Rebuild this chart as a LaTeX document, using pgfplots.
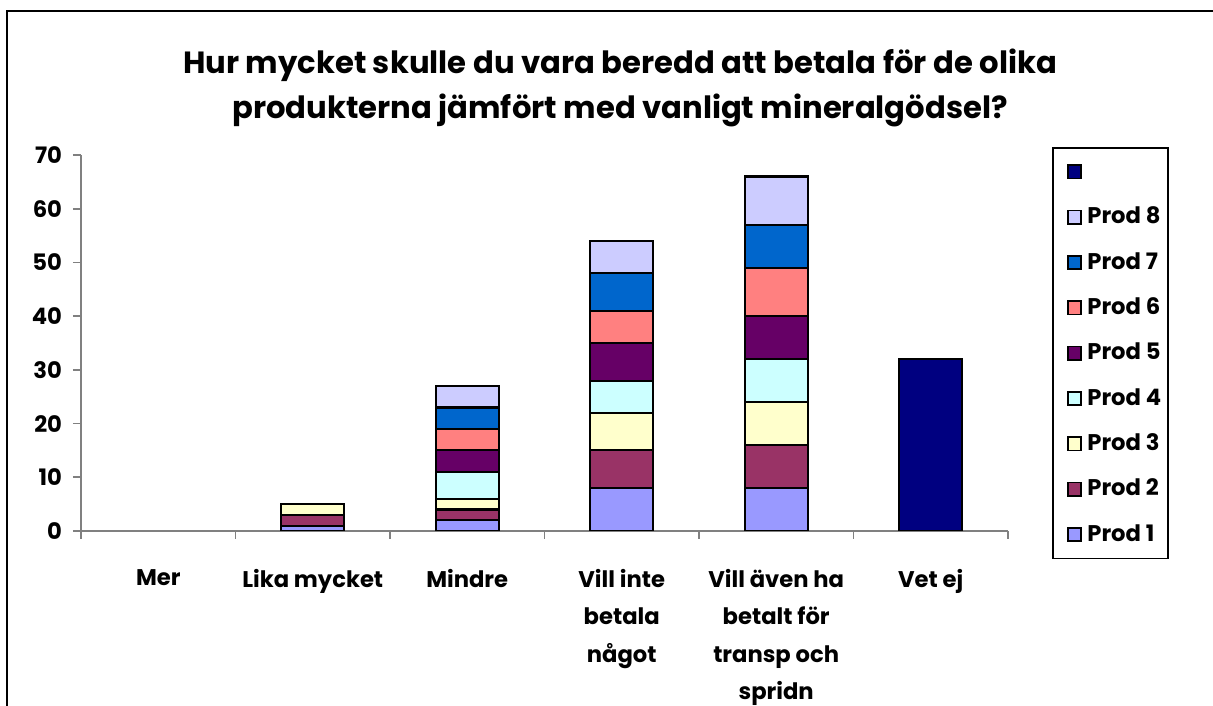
\documentclass[border=0pt]{standalone}
\usepackage{fontspec}
\setmainfont{Poppins}
\usepackage{pgfplots}
\pgfplotsset{compat=1.18}

\definecolor{prodA}{HTML}{9999FF}
\definecolor{prodB}{HTML}{993366}
\definecolor{prodC}{HTML}{FFFFCC}
\definecolor{prodD}{HTML}{CCFFFF}
\definecolor{prodE}{HTML}{660066}
\definecolor{prodF}{HTML}{FF8080}
\definecolor{prodG}{HTML}{0066CC}
\definecolor{prodH}{HTML}{CCCCFF}
\definecolor{vetej}{HTML}{000080}

\begin{document}
\begin{tikzpicture}[x=0.375pt,y=0.375pt]
\path[use as bounding box, clip] (0,0) rectangle (1213,706);
\draw[black, line width=0.6pt] (7,-40) rectangle (1260,695);
\node[font=\fontsize{11.5}{17}\selectfont\bfseries, align=center] at (620,618)
  {Hur mycket skulle du vara beredd att betala för de olika\\produkterna jämfört med vanligt mineralgödsel?};
\begin{axis}[
    at={(30.375pt,65.625pt)}, anchor=south west,
    scale only axis, width=347.6pt, height=141pt,
    xmin=-0.5, xmax=5.5, ymin=0, ymax=70,
    ybar stacked, bar width=23.6pt,
    axis x line*=bottom, axis y line*=left,
    axis line style={draw=gray, line width=0.6pt},
    tick style={draw=gray, line width=0.6pt},
    tick align=outside, major tick length=3pt, minor tick length=3pt,
    xtick={0,...,5},
    xticklabels={Mer, Lika mycket, Mindre, {Vill inte\\betala\\något},
                 {Vill även ha\\betalt för\\transp och\\spridn}, Vet ej},
    major x tick style={draw=none},
    minor xtick={-0.5,0.5,...,5.5},
    ytick={0,10,...,70},
    /pgf/number format/assume math mode=true,
    ticklabel style={font=\fontsize{8.5}{13.9}\selectfont\bfseries},
    xticklabel style={align=center, anchor=north, yshift=-8pt},
    yticklabel style={xshift=-0.6pt},
    legend style={at={(1.048,1.021)}, anchor=north west, draw=black,
        line width=0.6pt, font=\fontsize{8.5}{10}\selectfont\bfseries,
        nodes={inner sep=0pt, text height=6.5pt, text depth=1.5pt},
        row sep=9pt, inner xsep=2.5pt, inner ysep=5pt,
        /tikz/every odd column/.style={column sep=2pt}},
    legend cell align=left,
    reverse legend,
    legend image code/.code={\path (0pt,0pt);
        \draw[#1, draw=black, line width=0.6pt]
        (2.6pt,-2.5pt) rectangle (7.6pt,2.5pt);},
    every axis plot/.append style={draw=black, line width=0.8pt},
]
\addplot[fill=prodA] coordinates {(1,1) (2,2) (3,8) (4,8) (5,0)};
\addlegendentry{Prod 1}
\addplot[fill=prodB] coordinates {(1,2) (2,2) (3,7) (4,8) (5,0)};
\addlegendentry{Prod 2}
\addplot[fill=prodC] coordinates {(1,2) (2,2) (3,7) (4,8) (5,0)};
\addlegendentry{Prod 3}
\addplot[fill=prodD] coordinates {(1,0) (2,5) (3,6) (4,8) (5,0)};
\addlegendentry{Prod 4}
\addplot[fill=prodE] coordinates {(1,0) (2,4) (3,7) (4,8) (5,0)};
\addlegendentry{Prod 5}
\addplot[fill=prodF] coordinates {(1,0) (2,4) (3,6) (4,9) (5,0)};
\addlegendentry{Prod 6}
\addplot[fill=prodG] coordinates {(1,0) (2,4) (3,7) (4,8) (5,0)};
\addlegendentry{Prod 7}
\addplot[fill=prodH] coordinates {(1,0) (2,4) (3,6) (4,9) (5,0)};
\addlegendentry{Prod 8}
\addplot[fill=vetej] coordinates {(1,0) (2,0) (3,0) (4,0) (5,32)};
\addlegendentry{\mbox{}}
\end{axis}
\end{tikzpicture}
\end{document}
